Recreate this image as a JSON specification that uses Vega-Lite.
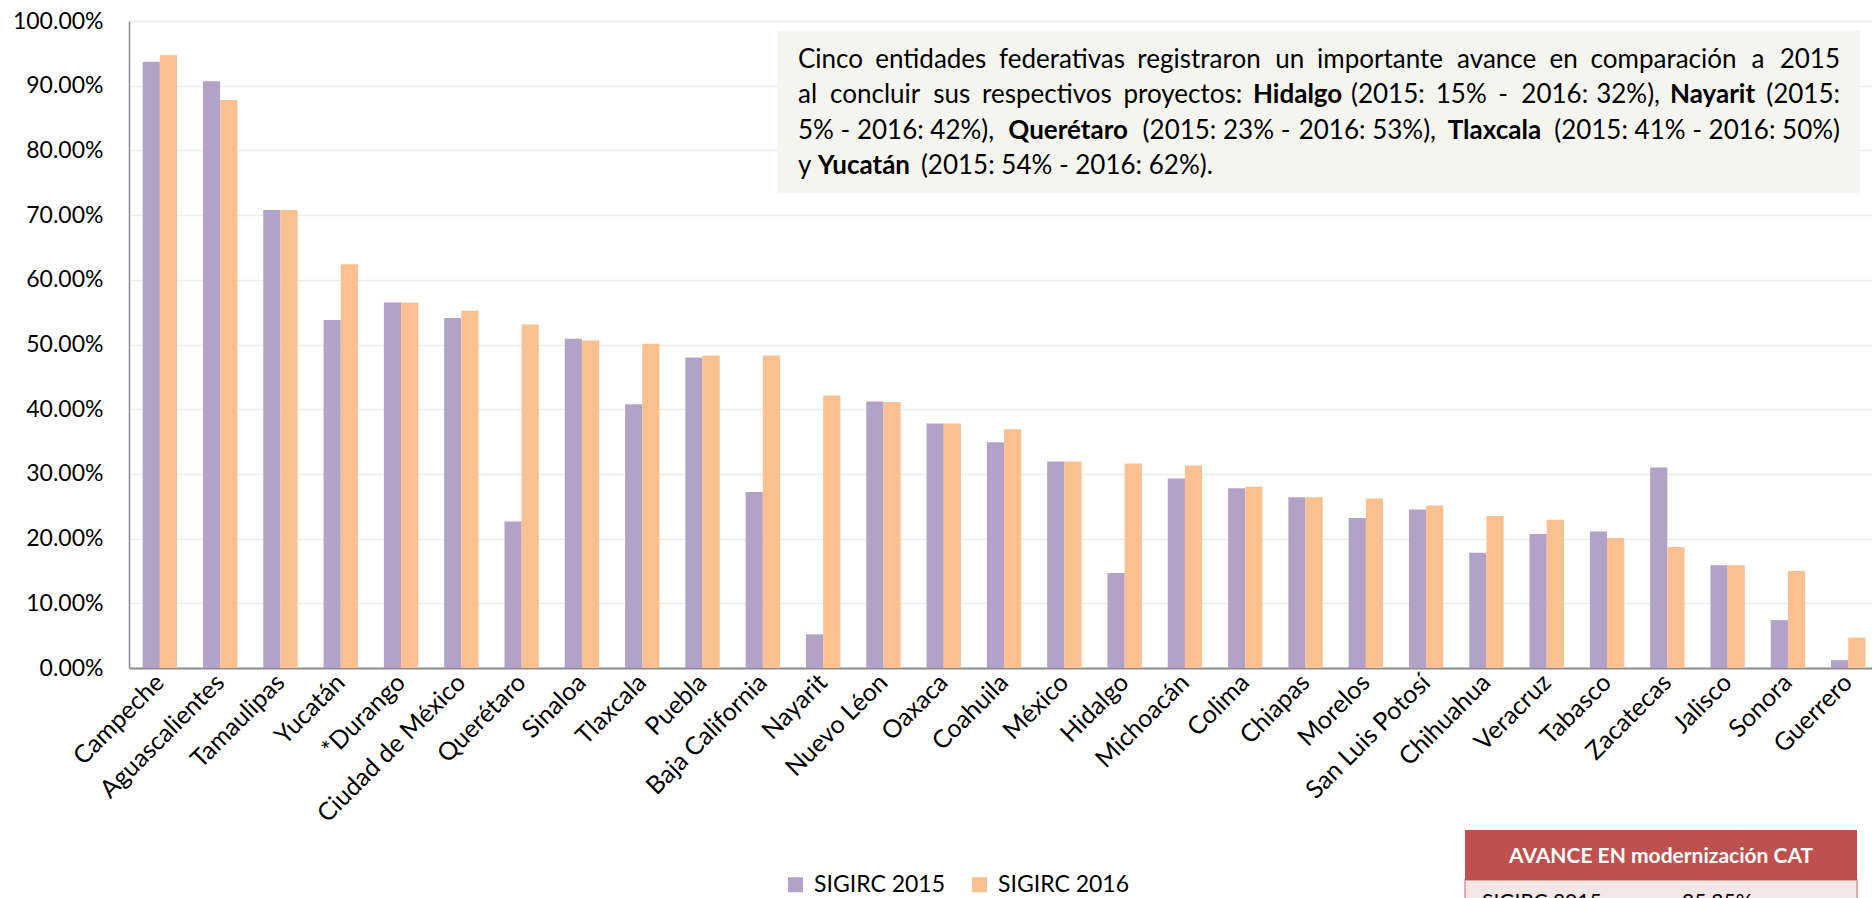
{
  "$schema": "https://vega.github.io/schema/vega-lite/v6.json",
  "autosize": {"type": "none"},
  "padding": {"left": 129, "top": 21, "right": 0, "bottom": 230},
  "width": 1743,
  "height": 647,
  "background": "white",
  "config": {
    "font": "Lato",
    "view": {"stroke": null},
    "text": {"font": "Lato"}
  },
  "datasets": {
    "avance": [
      {"estado": "Campeche", "serie": "SIGIRC 2015", "valor": 0.937},
      {"estado": "Campeche", "serie": "SIGIRC 2016", "valor": 0.947},
      {"estado": "Aguascalientes", "serie": "SIGIRC 2015", "valor": 0.907},
      {"estado": "Aguascalientes", "serie": "SIGIRC 2016", "valor": 0.878},
      {"estado": "Tamaulipas", "serie": "SIGIRC 2015", "valor": 0.708},
      {"estado": "Tamaulipas", "serie": "SIGIRC 2016", "valor": 0.708},
      {"estado": "Yucatán", "serie": "SIGIRC 2015", "valor": 0.538},
      {"estado": "Yucatán", "serie": "SIGIRC 2016", "valor": 0.624},
      {"estado": "*Durango", "serie": "SIGIRC 2015", "valor": 0.565},
      {"estado": "*Durango", "serie": "SIGIRC 2016", "valor": 0.565},
      {"estado": "Ciudad de México", "serie": "SIGIRC 2015", "valor": 0.541},
      {"estado": "Ciudad de México", "serie": "SIGIRC 2016", "valor": 0.552},
      {"estado": "Querétaro", "serie": "SIGIRC 2015", "valor": 0.2265},
      {"estado": "Querétaro", "serie": "SIGIRC 2016", "valor": 0.531},
      {"estado": "Sinaloa", "serie": "SIGIRC 2015", "valor": 0.509},
      {"estado": "Sinaloa", "serie": "SIGIRC 2016", "valor": 0.506},
      {"estado": "Tlaxcala", "serie": "SIGIRC 2015", "valor": 0.4075},
      {"estado": "Tlaxcala", "serie": "SIGIRC 2016", "valor": 0.501},
      {"estado": "Puebla", "serie": "SIGIRC 2015", "valor": 0.48},
      {"estado": "Puebla", "serie": "SIGIRC 2016", "valor": 0.483},
      {"estado": "Baja California", "serie": "SIGIRC 2015", "valor": 0.272},
      {"estado": "Baja California", "serie": "SIGIRC 2016", "valor": 0.483},
      {"estado": "Nayarit", "serie": "SIGIRC 2015", "valor": 0.052},
      {"estado": "Nayarit", "serie": "SIGIRC 2016", "valor": 0.421},
      {"estado": "Nuevo Léon", "serie": "SIGIRC 2015", "valor": 0.412},
      {"estado": "Nuevo Léon", "serie": "SIGIRC 2016", "valor": 0.411},
      {"estado": "Oaxaca", "serie": "SIGIRC 2015", "valor": 0.378},
      {"estado": "Oaxaca", "serie": "SIGIRC 2016", "valor": 0.378},
      {"estado": "Coahuila", "serie": "SIGIRC 2015", "valor": 0.349},
      {"estado": "Coahuila", "serie": "SIGIRC 2016", "valor": 0.369},
      {"estado": "México", "serie": "SIGIRC 2015", "valor": 0.319},
      {"estado": "México", "serie": "SIGIRC 2016", "valor": 0.319},
      {"estado": "Hidalgo", "serie": "SIGIRC 2015", "valor": 0.147},
      {"estado": "Hidalgo", "serie": "SIGIRC 2016", "valor": 0.316},
      {"estado": "Michoacán", "serie": "SIGIRC 2015", "valor": 0.293},
      {"estado": "Michoacán", "serie": "SIGIRC 2016", "valor": 0.313},
      {"estado": "Colima", "serie": "SIGIRC 2015", "valor": 0.278},
      {"estado": "Colima", "serie": "SIGIRC 2016", "valor": 0.28},
      {"estado": "Chiapas", "serie": "SIGIRC 2015", "valor": 0.264},
      {"estado": "Chiapas", "serie": "SIGIRC 2016", "valor": 0.264},
      {"estado": "Morelos", "serie": "SIGIRC 2015", "valor": 0.232},
      {"estado": "Morelos", "serie": "SIGIRC 2016", "valor": 0.262},
      {"estado": "San Luis Potosí", "serie": "SIGIRC 2015", "valor": 0.245},
      {"estado": "San Luis Potosí", "serie": "SIGIRC 2016", "valor": 0.251},
      {"estado": "Chihuahua", "serie": "SIGIRC 2015", "valor": 0.178},
      {"estado": "Chihuahua", "serie": "SIGIRC 2016", "valor": 0.235},
      {"estado": "Veracruz", "serie": "SIGIRC 2015", "valor": 0.207},
      {"estado": "Veracruz", "serie": "SIGIRC 2016", "valor": 0.229},
      {"estado": "Tabasco", "serie": "SIGIRC 2015", "valor": 0.211},
      {"estado": "Tabasco", "serie": "SIGIRC 2016", "valor": 0.201},
      {"estado": "Zacatecas", "serie": "SIGIRC 2015", "valor": 0.31},
      {"estado": "Zacatecas", "serie": "SIGIRC 2016", "valor": 0.187},
      {"estado": "Jalisco", "serie": "SIGIRC 2015", "valor": 0.159},
      {"estado": "Jalisco", "serie": "SIGIRC 2016", "valor": 0.159},
      {"estado": "Sonora", "serie": "SIGIRC 2015", "valor": 0.074},
      {"estado": "Sonora", "serie": "SIGIRC 2016", "valor": 0.15},
      {"estado": "Guerrero", "serie": "SIGIRC 2015", "valor": 0.012},
      {"estado": "Guerrero", "serie": "SIGIRC 2016", "valor": 0.047}
    ]
  },
  "resolve": {"scale": {"x": "independent"}},
  "layer": [
    {
      "data": {"name": "avance"},
      "mark": {"type": "bar"},
      "encoding": {
        "x": {
          "field": "estado", "type": "nominal", "sort": null,
          "scale": {"paddingInner": 0.43, "paddingOuter": 0.168, "align": 0.675},
          "axis": {
            "title": null, "labelAngle": -45, "labelAlign": "right", "labelBaseline": "middle",
            "labelFontSize": 25, "labelColor": "#000000", "labelPadding": 10,
            "ticks": false, "domainColor": "#8c8c8c", "domainWidth": 2, "grid": false,
            "labelOverlap": false, "labelLimit": 400
          }
        },
        "xOffset": {"field": "serie", "type": "nominal", "scale": {"paddingInner": 0, "paddingOuter": 0}},
        "y": {
          "field": "valor", "type": "quantitative",
          "scale": {"domain": [0, 1], "nice": false, "zero": true},
          "axis": {
            "title": null, "format": ".2%", "values": [0, 0.1, 0.2, 0.3, 0.4, 0.5, 0.6, 0.7, 0.8, 0.9, 1],
            "labelFontSize": 23, "labelColor": "#000000", "labelPadding": 26, "ticks": false,
            "domainColor": "#8c8c8c", "domainWidth": 1.5,
            "gridColor": "#EDEDED", "gridWidth": 1.5
          }
        },
        "color": {
          "field": "serie", "type": "nominal",
          "scale": {"domain": ["SIGIRC 2015", "SIGIRC 2016"], "range": ["#B3A2C7", "#FAC090"]},
          "legend": {
            "title": null, "orient": "none", "direction": "horizontal",
            "legendX": 655, "legendY": 852, "symbolType": "square", "symbolSize": 225,
            "symbolStrokeWidth": 0, "labelFontSize": 23, "labelColor": "#000000",
            "labelOffset": 7, "columnPadding": 22, "padding": 0
          }
        }
      }
    },
    {
      "data": {"values": [{}]},
      "mark": {"type": "rect", "color": "#F4F5EF"},
      "encoding": {
        "x": {"datum": 37.23, "type": "quantitative", "scale": {"domain": [0, 100], "nice": false, "zero": false}, "axis": null},
        "x2": {"datum": 99.31},
        "y": {"datum": 0.98454, "type": "quantitative"},
        "y2": {"datum": 0.73462}
      }
    },
    {"data": {"values": [{"texto": "Cinco"}]}, "mark": {"type": "text", "align": "left", "baseline": "alphabetic", "fontSize": 26, "color": "#000000"},
     "encoding": {"x": {"datum": 38.382, "type": "quantitative", "scale": {"domain": [0, 100], "nice": false, "zero": false}, "axis": null}, "y": {"datum": 0.92736, "type": "quantitative"}, "text": {"field": "texto"}}},
    {"data": {"values": [{"texto": "entidades"}]}, "mark": {"type": "text", "align": "left", "baseline": "alphabetic", "fontSize": 26, "color": "#000000"},
     "encoding": {"x": {"datum": 42.814, "type": "quantitative", "scale": {"domain": [0, 100], "nice": false, "zero": false}, "axis": null}, "y": {"datum": 0.92736, "type": "quantitative"}, "text": {"field": "texto"}}},
    {"data": {"values": [{"texto": "federativas"}]}, "mark": {"type": "text", "align": "left", "baseline": "alphabetic", "fontSize": 26, "color": "#000000"},
     "encoding": {"x": {"datum": 49.914, "type": "quantitative", "scale": {"domain": [0, 100], "nice": false, "zero": false}, "axis": null}, "y": {"datum": 0.92736, "type": "quantitative"}, "text": {"field": "texto"}}},
    {"data": {"values": [{"texto": "registraron"}]}, "mark": {"type": "text", "align": "left", "baseline": "alphabetic", "fontSize": 26, "color": "#000000"},
     "encoding": {"x": {"datum": 57.851, "type": "quantitative", "scale": {"domain": [0, 100], "nice": false, "zero": false}, "axis": null}, "y": {"datum": 0.92736, "type": "quantitative"}, "text": {"field": "texto"}}},
    {"data": {"values": [{"texto": "un"}]}, "mark": {"type": "text", "align": "left", "baseline": "alphabetic", "fontSize": 26, "color": "#000000"},
     "encoding": {"x": {"datum": 65.76, "type": "quantitative", "scale": {"domain": [0, 100], "nice": false, "zero": false}, "axis": null}, "y": {"datum": 0.92736, "type": "quantitative"}, "text": {"field": "texto"}}},
    {"data": {"values": [{"texto": "importante"}]}, "mark": {"type": "text", "align": "left", "baseline": "alphabetic", "fontSize": 26, "color": "#000000"},
     "encoding": {"x": {"datum": 68.161, "type": "quantitative", "scale": {"domain": [0, 100], "nice": false, "zero": false}, "axis": null}, "y": {"datum": 0.92736, "type": "quantitative"}, "text": {"field": "texto"}}},
    {"data": {"values": [{"texto": "avance"}]}, "mark": {"type": "text", "align": "left", "baseline": "alphabetic", "fontSize": 26, "color": "#000000"},
     "encoding": {"x": {"datum": 76.196, "type": "quantitative", "scale": {"domain": [0, 100], "nice": false, "zero": false}, "axis": null}, "y": {"datum": 0.92736, "type": "quantitative"}, "text": {"field": "texto"}}},
    {"data": {"values": [{"texto": "en"}]}, "mark": {"type": "text", "align": "left", "baseline": "alphabetic", "fontSize": 26, "color": "#000000"},
     "encoding": {"x": {"datum": 81.501, "type": "quantitative", "scale": {"domain": [0, 100], "nice": false, "zero": false}, "axis": null}, "y": {"datum": 0.92736, "type": "quantitative"}, "text": {"field": "texto"}}},
    {"data": {"values": [{"texto": "comparación"}]}, "mark": {"type": "text", "align": "left", "baseline": "alphabetic", "fontSize": 26, "color": "#000000"},
     "encoding": {"x": {"datum": 83.856, "type": "quantitative", "scale": {"domain": [0, 100], "nice": false, "zero": false}, "axis": null}, "y": {"datum": 0.92736, "type": "quantitative"}, "text": {"field": "texto"}}},
    {"data": {"values": [{"texto": "a"}]}, "mark": {"type": "text", "align": "left", "baseline": "alphabetic", "fontSize": 26, "color": "#000000"},
     "encoding": {"x": {"datum": 93.084, "type": "quantitative", "scale": {"domain": [0, 100], "nice": false, "zero": false}, "axis": null}, "y": {"datum": 0.92736, "type": "quantitative"}, "text": {"field": "texto"}}},
    {"data": {"values": [{"texto": "2015"}]}, "mark": {"type": "text", "align": "right", "baseline": "alphabetic", "fontSize": 26, "color": "#000000"},
     "encoding": {"x": {"datum": 98.164, "type": "quantitative", "scale": {"domain": [0, 100], "nice": false, "zero": false}, "axis": null}, "y": {"datum": 0.92736, "type": "quantitative"}, "text": {"field": "texto"}}},
    {"data": {"values": [{"texto": "al"}]}, "mark": {"type": "text", "align": "left", "baseline": "alphabetic", "fontSize": 26, "color": "#000000"},
     "encoding": {"x": {"datum": 38.382, "type": "quantitative", "scale": {"domain": [0, 100], "nice": false, "zero": false}, "axis": null}, "y": {"datum": 0.87326, "type": "quantitative"}, "text": {"field": "texto"}}},
    {"data": {"values": [{"texto": "concluir"}]}, "mark": {"type": "text", "align": "left", "baseline": "alphabetic", "fontSize": 26, "color": "#000000"},
     "encoding": {"x": {"datum": 40.224, "type": "quantitative", "scale": {"domain": [0, 100], "nice": false, "zero": false}, "axis": null}, "y": {"datum": 0.87326, "type": "quantitative"}, "text": {"field": "texto"}}},
    {"data": {"values": [{"texto": "sus"}]}, "mark": {"type": "text", "align": "left", "baseline": "alphabetic", "fontSize": 26, "color": "#000000"},
     "encoding": {"x": {"datum": 46.145, "type": "quantitative", "scale": {"domain": [0, 100], "nice": false, "zero": false}, "axis": null}, "y": {"datum": 0.87326, "type": "quantitative"}, "text": {"field": "texto"}}},
    {"data": {"values": [{"texto": "respectivos"}]}, "mark": {"type": "text", "align": "left", "baseline": "alphabetic", "fontSize": 26, "color": "#000000"},
     "encoding": {"x": {"datum": 48.944, "type": "quantitative", "scale": {"domain": [0, 100], "nice": false, "zero": false}, "axis": null}, "y": {"datum": 0.87326, "type": "quantitative"}, "text": {"field": "texto"}}},
    {"data": {"values": [{"texto": "proyectos:"}]}, "mark": {"type": "text", "align": "left", "baseline": "alphabetic", "fontSize": 26, "color": "#000000"},
     "encoding": {"x": {"datum": 57.05, "type": "quantitative", "scale": {"domain": [0, 100], "nice": false, "zero": false}, "axis": null}, "y": {"datum": 0.87326, "type": "quantitative"}, "text": {"field": "texto"}}},
    {"data": {"values": [{"texto": "Hidalgo"}]}, "mark": {"type": "text", "align": "left", "baseline": "alphabetic", "fontSize": 26, "fontWeight": "bold", "color": "#000000"},
     "encoding": {"x": {"datum": 64.487, "type": "quantitative", "scale": {"domain": [0, 100], "nice": false, "zero": false}, "axis": null}, "y": {"datum": 0.87326, "type": "quantitative"}, "text": {"field": "texto"}}},
    {"data": {"values": [{"texto": "(2015:"}]}, "mark": {"type": "text", "align": "left", "baseline": "alphabetic", "fontSize": 26, "color": "#000000"},
     "encoding": {"x": {"datum": 70.109, "type": "quantitative", "scale": {"domain": [0, 100], "nice": false, "zero": false}, "axis": null}, "y": {"datum": 0.87326, "type": "quantitative"}, "text": {"field": "texto"}}},
    {"data": {"values": [{"texto": "15%"}]}, "mark": {"type": "text", "align": "left", "baseline": "alphabetic", "fontSize": 26, "color": "#000000"},
     "encoding": {"x": {"datum": 74.97, "type": "quantitative", "scale": {"domain": [0, 100], "nice": false, "zero": false}, "axis": null}, "y": {"datum": 0.87326, "type": "quantitative"}, "text": {"field": "texto"}}},
    {"data": {"values": [{"texto": "-"}]}, "mark": {"type": "text", "align": "left", "baseline": "alphabetic", "fontSize": 26, "color": "#000000"},
     "encoding": {"x": {"datum": 78.56, "type": "quantitative", "scale": {"domain": [0, 100], "nice": false, "zero": false}, "axis": null}, "y": {"datum": 0.87326, "type": "quantitative"}, "text": {"field": "texto"}}},
    {"data": {"values": [{"texto": "2016:"}]}, "mark": {"type": "text", "align": "left", "baseline": "alphabetic", "fontSize": 26, "color": "#000000"},
     "encoding": {"x": {"datum": 79.88, "type": "quantitative", "scale": {"domain": [0, 100], "nice": false, "zero": false}, "axis": null}, "y": {"datum": 0.87326, "type": "quantitative"}, "text": {"field": "texto"}}},
    {"data": {"values": [{"texto": "32%),"}]}, "mark": {"type": "text", "align": "right", "baseline": "alphabetic", "fontSize": 26, "color": "#000000"},
     "encoding": {"x": {"datum": 87.837, "type": "quantitative", "scale": {"domain": [0, 100], "nice": false, "zero": false}, "axis": null}, "y": {"datum": 0.87326, "type": "quantitative"}, "text": {"field": "texto"}}},
    {"data": {"values": [{"texto": "Nayarit"}]}, "mark": {"type": "text", "align": "left", "baseline": "alphabetic", "fontSize": 26, "fontWeight": "bold", "color": "#000000"},
     "encoding": {"x": {"datum": 88.411, "type": "quantitative", "scale": {"domain": [0, 100], "nice": false, "zero": false}, "axis": null}, "y": {"datum": 0.87326, "type": "quantitative"}, "text": {"field": "texto"}}},
    {"data": {"values": [{"texto": "(2015:"}]}, "mark": {"type": "text", "align": "right", "baseline": "alphabetic", "fontSize": 26, "color": "#000000"},
     "encoding": {"x": {"datum": 98.164, "type": "quantitative", "scale": {"domain": [0, 100], "nice": false, "zero": false}, "axis": null}, "y": {"datum": 0.87326, "type": "quantitative"}, "text": {"field": "texto"}}},
    {"data": {"values": [{"texto": "5% - 2016: 42%),"}]}, "mark": {"type": "text", "align": "left", "baseline": "alphabetic", "fontSize": 26, "color": "#000000"},
     "encoding": {"x": {"datum": 38.382, "type": "quantitative", "scale": {"domain": [0, 100], "nice": false, "zero": false}, "axis": null}, "y": {"datum": 0.81839, "type": "quantitative"}, "text": {"field": "texto"}}},
    {"data": {"values": [{"texto": "Querétaro"}]}, "mark": {"type": "text", "align": "left", "baseline": "alphabetic", "fontSize": 26, "fontWeight": "bold", "color": "#000000"},
     "encoding": {"x": {"datum": 50.45, "type": "quantitative", "scale": {"domain": [0, 100], "nice": false, "zero": false}, "axis": null}, "y": {"datum": 0.81839, "type": "quantitative"}, "text": {"field": "texto"}}},
    {"data": {"values": [{"texto": "(2015: 23% -"}]}, "mark": {"type": "text", "align": "left", "baseline": "alphabetic", "fontSize": 26, "color": "#000000"},
     "encoding": {"x": {"datum": 58.153, "type": "quantitative", "scale": {"domain": [0, 100], "nice": false, "zero": false}, "axis": null}, "y": {"datum": 0.81839, "type": "quantitative"}, "text": {"field": "texto"}}},
    {"data": {"values": [{"texto": "2016: 53%),"}]}, "mark": {"type": "text", "align": "right", "baseline": "alphabetic", "fontSize": 26, "color": "#000000"},
     "encoding": {"x": {"datum": 74.986, "type": "quantitative", "scale": {"domain": [0, 100], "nice": false, "zero": false}, "axis": null}, "y": {"datum": 0.81839, "type": "quantitative"}, "text": {"field": "texto"}}},
    {"data": {"values": [{"texto": "Tlaxcala"}]}, "mark": {"type": "text", "align": "left", "baseline": "alphabetic", "fontSize": 26, "fontWeight": "bold", "color": "#000000"},
     "encoding": {"x": {"datum": 75.66, "type": "quantitative", "scale": {"domain": [0, 100], "nice": false, "zero": false}, "axis": null}, "y": {"datum": 0.81839, "type": "quantitative"}, "text": {"field": "texto"}}},
    {"data": {"values": [{"texto": "(2015: 41% - 2016: 50%)"}]}, "mark": {"type": "text", "align": "right", "baseline": "alphabetic", "fontSize": 26, "color": "#000000"},
     "encoding": {"x": {"datum": 98.164, "type": "quantitative", "scale": {"domain": [0, 100], "nice": false, "zero": false}, "axis": null}, "y": {"datum": 0.81839, "type": "quantitative"}, "text": {"field": "texto"}}},
    {"data": {"values": [{"texto": "y"}]}, "mark": {"type": "text", "align": "left", "baseline": "alphabetic", "fontSize": 26, "color": "#000000"},
     "encoding": {"x": {"datum": 38.382, "type": "quantitative", "scale": {"domain": [0, 100], "nice": false, "zero": false}, "axis": null}, "y": {"datum": 0.76352, "type": "quantitative"}, "text": {"field": "texto"}}},
    {"data": {"values": [{"texto": "Yucatán"}]}, "mark": {"type": "text", "align": "left", "baseline": "alphabetic", "fontSize": 26, "fontWeight": "bold", "color": "#000000"},
     "encoding": {"x": {"datum": 39.512, "type": "quantitative", "scale": {"domain": [0, 100], "nice": false, "zero": false}, "axis": null}, "y": {"datum": 0.76352, "type": "quantitative"}, "text": {"field": "texto"}}},
    {"data": {"values": [{"texto": "(2015: 54% - 2016: 62%)."}]}, "mark": {"type": "text", "align": "left", "baseline": "alphabetic", "fontSize": 26, "color": "#000000"},
     "encoding": {"x": {"datum": 45.433, "type": "quantitative", "scale": {"domain": [0, 100], "nice": false, "zero": false}, "axis": null}, "y": {"datum": 0.76352, "type": "quantitative"}, "text": {"field": "texto"}}},
    {
      "data": {"values": [{}]},
      "mark": {"type": "rect", "color": "#F2E6E6", "stroke": "#D99694", "strokeWidth": 1.5},
      "encoding": {
        "x": {"datum": 76.65, "type": "quantitative", "scale": {"domain": [0, 100], "nice": false, "zero": false}, "axis": null},
        "x2": {"datum": 99.14},
        "y": {"datum": -0.32767, "type": "quantitative"},
        "y2": {"datum": -0.42}
      }
    },
    {
      "data": {"values": [{}]},
      "mark": {"type": "rect", "color": "#C0504D"},
      "encoding": {
        "x": {"datum": 76.65, "type": "quantitative", "scale": {"domain": [0, 100], "nice": false, "zero": false}, "axis": null},
        "x2": {"datum": 99.14},
        "y": {"datum": -0.25039, "type": "quantitative"},
        "y2": {"datum": -0.32767}
      }
    },
    {
      "data": {"values": [{"texto": "AVANCE EN modernización CAT"}]},
      "mark": {"type": "text", "align": "center", "baseline": "alphabetic", "fontSize": 21, "fontWeight": "bold", "color": "#FFFFFF"},
      "encoding": {
        "x": {"datum": 87.9, "type": "quantitative", "scale": {"domain": [0, 100], "nice": false, "zero": false}, "axis": null},
        "y": {"datum": -0.30062, "type": "quantitative"},
        "text": {"field": "texto"}
      }
    },
    {
      "data": {"values": [{"texto": "SIGIRC 2015"}]},
      "mark": {"type": "text", "align": "left", "baseline": "alphabetic", "fontSize": 21, "color": "#000000"},
      "encoding": {
        "x": {"datum": 77.625, "type": "quantitative", "scale": {"domain": [0, 100], "nice": false, "zero": false}, "axis": null},
        "y": {"datum": -0.3725, "type": "quantitative"},
        "text": {"field": "texto"}
      }
    },
    {
      "data": {"values": [{"texto": "25.25%"}]},
      "mark": {"type": "text", "align": "left", "baseline": "alphabetic", "fontSize": 21, "color": "#000000"},
      "encoding": {
        "x": {"datum": 89.1, "type": "quantitative", "scale": {"domain": [0, 100], "nice": false, "zero": false}, "axis": null},
        "y": {"datum": -0.3725, "type": "quantitative"},
        "text": {"field": "texto"}
      }
    }
  ]
}
